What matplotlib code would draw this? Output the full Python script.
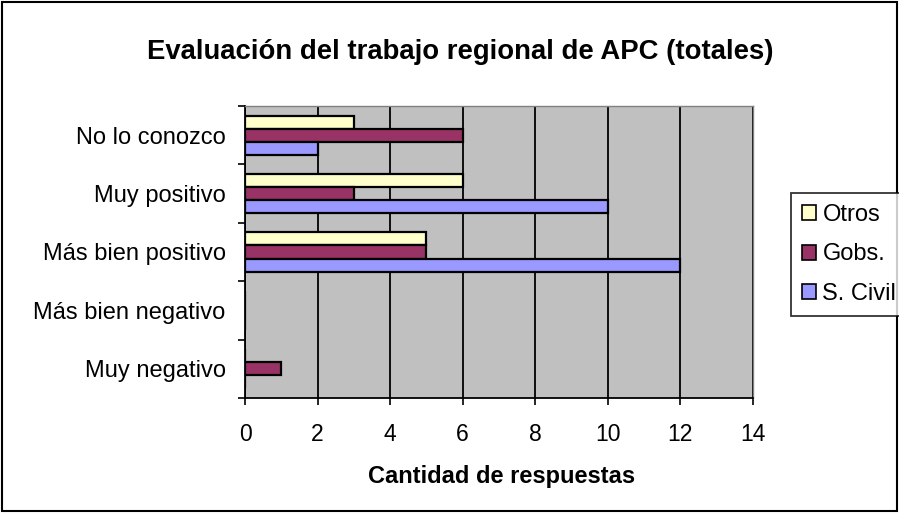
import numpy as np
import matplotlib.pyplot as plt
from matplotlib.patches import Patch, Rectangle

plt.rcParams['font.family'] = ['Liberation Sans', 'DejaVu Sans']

categories = ["Muy negativo", "Más bien negativo", "Más bien positivo",
              "Muy positivo", "No lo conozco"]
series_names = ["Otros", "Gobs.", "S. Civil"]
otros = [0, 0, 5, 6, 3]
gobs = [1, 0, 5, 3, 6]
civil = [0, 0, 12, 10, 2]
colors = ["#FFFFCC", "#993366", "#9999FF"]

fig = plt.figure(figsize=(8.99, 5.13), dpi=100)
ax = fig.add_axes([245 / 899, 1 - 398 / 513, (753 - 245) / 899, (398 - 106) / 513])
ax.set_facecolor("#C0C0C0")

y = np.arange(len(categories))
h = 0.224
# top to bottom inside each group: Otros, Gobs., S. Civil
for i, (vals, c) in enumerate(zip([otros, gobs, civil], colors)):
    ax.barh(y + (1 - i) * h, vals, height=h, color=c, edgecolor="black",
            linewidth=1.6, zorder=3)

ax.set_xlim(0, 14)
ax.set_ylim(-0.5, len(categories) - 0.5)
ax.set_xticks(np.arange(0, 15, 2))
ax.tick_params(axis="x", labelsize=16.5, length=5, width=1.2, direction="out", pad=13)
ax.xaxis.grid(True, color="black", linewidth=1.3, zorder=1)
ax.set_axisbelow(True)

ax.set_yticks(np.arange(-0.5, len(categories), 1))
ax.set_yticklabels([])
ax.tick_params(axis="y", which="major", length=5, width=1.2, direction="out")
ax.set_yticks(y, minor=True)
ax.set_yticklabels(categories, minor=True)
ax.tick_params(axis="y", which="minor", length=0, labelsize=17, pad=14)

for s in ["left", "bottom"]:
    ax.spines[s].set_color("black")
    ax.spines[s].set_linewidth(1.3)
for s in ["top", "right"]:
    ax.spines[s].set_color("#808080")
    ax.spines[s].set_linewidth(1)

fig.text(502 / 899, 1 - 477 / 513, "Cantidad de respuestas", ha="center", va="center",
         fontsize=17, fontweight="bold")
fig.text(460 / 899, 1 - 52 / 513, "Evaluación del trabajo regional de APC (totales)",
         ha="center", va="center", fontsize=19.8, fontweight="bold")

handles = [Patch(facecolor=c, edgecolor="black", linewidth=1.2) for c in colors]
leg = fig.legend(handles, series_names, loc="upper left",
                 bbox_to_anchor=(791 / 899, 1 - 193 / 513), fontsize=17,
                 frameon=True, fancybox=False, edgecolor="black",
                 handlelength=0.6, handleheight=0.6, handletextpad=0.28,
                 labelspacing=0.75, borderpad=0.45, borderaxespad=0)
leg.get_frame().set_linewidth(1.3)

fig.patches.append(Rectangle((0.002, 0.003), 0.996, 0.994, transform=fig.transFigure,
                             fill=False, edgecolor="black", linewidth=1.5))

fig.savefig("out.png", dpi=100)
